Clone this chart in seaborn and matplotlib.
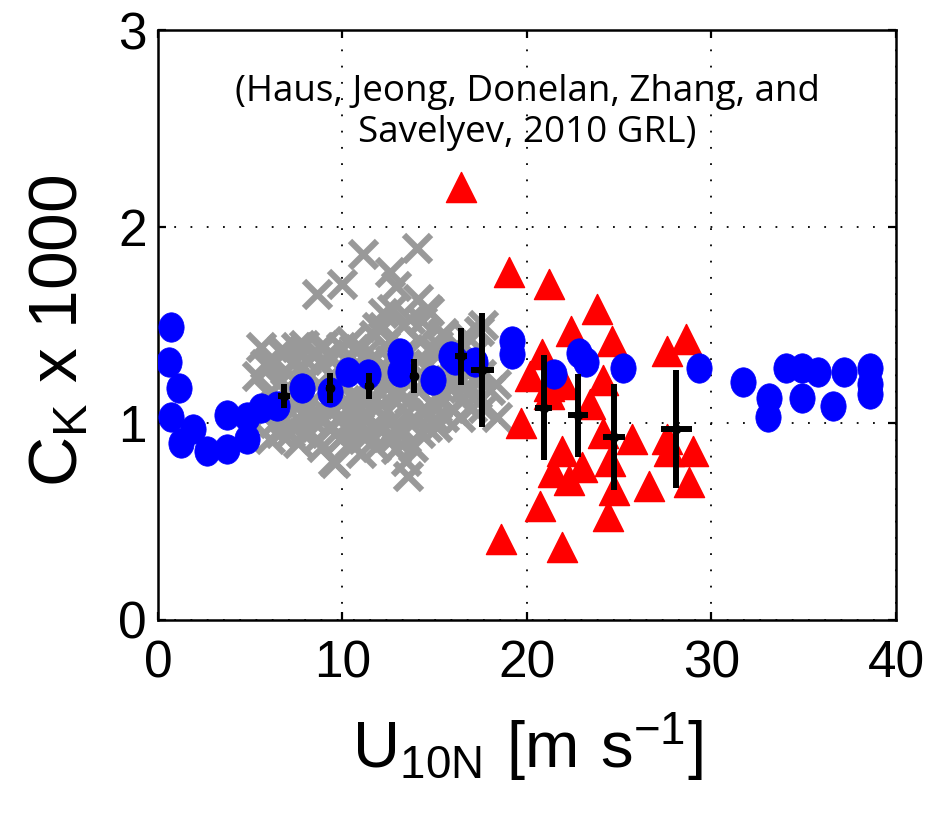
import seaborn as sns
import matplotlib.pyplot as plt
import numpy as np
import pandas as pd
from matplotlib.path import Path

# blue circles (bulk estimates)
blue_x = [0.69, 0.61, 1.15, 0.69, 1.23, 1.91, 2.67, 3.75, 3.75, 4.8, 4.8, 5.6, 6.43,
          7.78, 9.32, 10.3, 11.4, 13.1, 13.1, 14.9, 15.9, 16.1, 17.2, 19.2, 19.2,
          21.45, 22.8, 23.2, 25.2, 29.3, 31.7, 33.1, 33.06, 34.05, 34.9, 34.9,
          35.8, 36.6, 37.2, 38.6, 38.6, 38.6]
blue_y = [1.49, 1.31, 1.18, 1.03, 0.90, 0.97, 0.86, 1.04, 0.87, 0.92, 1.03, 1.08, 1.09,
          1.18, 1.16, 1.26, 1.25, 1.36, 1.26, 1.22, 1.34, 1.32, 1.31, 1.42, 1.35,
          1.25, 1.36, 1.31, 1.28, 1.28, 1.21, 1.13, 1.03, 1.28, 1.28, 1.13,
          1.26, 1.09, 1.26, 1.28, 1.15, 1.20]

# red triangles
red_x = [16.45, 19.0, 21.2, 23.8, 22.4, 24.6, 27.6, 28.6, 20.8, 20.15, 21.2, 22.0,
         24.1, 23.4, 19.7, 21.2, 24.1, 25.7, 27.6, 27.7, 29.0, 21.9, 23.0, 21.4,
         22.3, 24.5, 24.7, 26.6, 28.8, 20.7, 24.4, 18.6, 21.9]
red_y = [2.20, 1.77, 1.71, 1.58, 1.47, 1.42, 1.37, 1.43, 1.35, 1.24, 1.19, 1.20,
         1.22, 1.10, 1.00, 1.15, 0.95, 0.92, 0.92, 0.86, 0.86, 0.86, 0.78, 0.75,
         0.71, 0.81, 0.66, 0.68, 0.70, 0.58, 0.53, 0.41, 0.37]

# gray crosses (lab data)
gray_x = [8.6, 9.95, 11.1, 14.05, 12.6, 12.9, 12.7, 14.1, 14.7, 12.2, 13.3, 14.3, 12.2,
          14.6, 13.65, 15.45, 17.6, 17.4, 15.45, 15.1, 11.7, 11.85,
          5.6, 6.8, 7.5, 7.9, 8.8, 8.95, 9.9, 10.9, 5.35, 6.2, 6.9, 10.4, 11.3,
          6.0, 6.5, 7.0, 7.4, 7.8, 8.2, 8.4, 8.9, 9.0, 9.6, 9.9, 10.2, 10.3, 10.7,
          11.0, 11.2, 11.6, 11.8, 12.1, 12.3, 12.5, 12.7, 13.0, 13.2, 13.5, 13.7,
          14.0, 14.2, 14.4, 14.7, 15.0, 15.3, 15.6, 15.9, 16.2, 16.5, 16.8, 17.1,
          17.3, 6.3, 7.3, 8.1, 9.3, 10.0, 11.5, 12.8, 14.6, 16.0, 15.1,
          6.07, 7.15, 7.87, 8.6, 9.86, 9.5, 9.59, 10.76, 11.12, 12.39, 12.0, 13.3,
          13.56, 13.47, 13.83, 15.1, 16.36, 18.35, 17.6, 16.9, 18.0, 18.3,
          5.8, 6.4, 6.7, 7.1, 7.6, 8.0, 8.3, 8.7, 9.2, 9.4, 9.8, 10.1, 10.5, 10.6,
          10.9, 11.4, 11.9, 12.4, 12.6, 13.1, 13.4, 13.9, 14.1, 14.5, 14.9, 15.2,
          15.5, 15.8, 16.4, 16.6, 17.0, 17.5, 6.6, 7.6, 8.9, 10.4, 11.8, 12.9,
          14.2, 5.9, 11.0, 16.7,
          6.9, 8.5, 9.7, 10.8, 12.2, 13.6, 15.0, 16.1, 7.3, 8.6, 12.0, 14.8]
gray_y = [1.66, 1.71, 1.86, 1.89, 1.77, 1.70, 1.58, 1.63, 1.57, 1.49, 1.50, 1.52, 1.56,
          1.58, 1.53, 1.46, 1.50, 1.47, 1.45, 1.36, 1.45, 1.49,
          1.39, 1.35, 1.39, 1.40, 1.39, 1.40, 1.39, 1.38, 1.24, 1.30, 1.27, 1.42, 1.36,
          1.15, 1.20, 1.08, 1.22, 1.05, 1.25, 1.12, 1.30, 1.02, 1.22, 1.10, 1.32, 1.00, 1.15,
          1.28, 1.05, 1.20, 1.33, 1.10, 1.40, 1.00, 1.25, 1.15, 1.35, 1.05, 1.28,
          1.18, 1.42, 1.08, 1.30, 1.20, 1.12, 1.30, 1.18, 1.40, 1.12, 1.25, 1.35,
          1.15, 1.00, 0.98, 0.95, 0.97, 0.93, 0.95, 0.93, 0.98, 1.07, 1.08,
          0.92, 0.95, 0.95, 0.92, 0.92, 0.81, 0.80, 0.97, 0.93, 0.93, 0.98, 0.95,
          0.73, 0.81, 0.88, 0.98, 1.03, 1.03, 1.08, 1.17, 1.17, 1.20,
          1.30, 1.10, 1.38, 1.18, 1.12, 1.32, 1.02, 1.20, 1.35, 1.08, 1.28, 1.18, 1.08, 1.38,
          0.98, 1.12, 1.25, 1.18, 1.32, 0.98, 1.22, 1.02, 1.32, 1.20, 1.10, 1.40,
          1.03, 1.22, 1.30, 1.18, 1.08, 1.25, 0.95, 0.90, 0.88, 0.90, 0.88, 0.87,
          0.95, 1.05, 0.85, 1.45,
          1.02, 1.06, 1.02, 1.06, 1.04, 1.12, 1.02, 1.24, 1.30, 1.36, 1.28, 1.38]

# bin averages with error bars
bin_x = [6.83, 9.32, 11.43, 13.87, 16.41, 17.57, 20.9, 22.77, 24.72, 28.08]
bin_y = [1.14, 1.18, 1.19, 1.24, 1.34, 1.27, 1.08, 1.04, 0.93, 0.97]
bin_yerr = [0.06, 0.075, 0.065, 0.085, 0.145, 0.29, 0.265, 0.21, 0.27, 0.30]
bin_xerr = [0.32, 0.2, 0.2, 0.2, 0.32, 0.63, 0.48, 0.52, 0.6, 0.84]

sns.set_style('ticks')
plt.rcParams['font.family'] = ['Liberation Sans', 'DejaVu Sans']
plt.rcParams['mathtext.fontset'] = 'custom'
plt.rcParams['mathtext.rm'] = 'Liberation Sans'
for k in ['text.color', 'axes.labelcolor', 'xtick.color', 'ytick.color', 'axes.edgecolor']:
    plt.rcParams[k] = 'black'

fig = plt.figure(figsize=(9.38, 8.18), dpi=100)
ax = fig.add_axes([0.1684, 0.2421, 0.7868, 0.7212])

# slightly tall ellipse, like the stretched original
t = np.linspace(0, 2 * np.pi, 40)
ell = Path(np.column_stack([0.86 * np.cos(t), np.sin(t)]), closed=True)

gray = pd.DataFrame({'u': gray_x, 'ck': gray_y})
red = pd.DataFrame({'u': red_x, 'ck': red_y})
blue = pd.DataFrame({'u': blue_x, 'ck': blue_y})

sns.scatterplot(data=gray, x='u', y='ck', marker='x', s=380, color='#999999',
                linewidth=4.5, ax=ax, zorder=3)
sns.scatterplot(data=red, x='u', y='ck', marker='^', s=470, color='#ff0000',
                edgecolor='#ff0000', linewidth=1, ax=ax, zorder=4)
sns.scatterplot(data=blue, x='u', y='ck', marker=ell, s=450, color='#0000ff',
                edgecolor='#0000ff', linewidth=0.5, ax=ax, zorder=5)
ax.errorbar(bin_x, bin_y, yerr=bin_yerr, xerr=bin_xerr, fmt='o', color='k',
            markersize=6, elinewidth=4.3, capsize=0, zorder=6)

ax.set_xlim(0, 40)
ax.set_ylim(0, 3)
ax.set_xticks([0, 10, 20, 30, 40])
ax.set_yticks([0, 1, 2, 3])
ax.grid(True, color='k', linestyle=(0, (1, 8)), linewidth=1.3)
ax.set_axisbelow(True)
for sp in ax.spines.values():
    sp.set_visible(True)
    sp.set_linewidth(1.8)
ax.tick_params(direction='in', length=6, width=1.6, top=True, right=True,
               labelsize=37)
ax.tick_params(axis='x', pad=14)
ax.tick_params(axis='y', pad=8)

ax.set_xlabel(r'$\mathregular{U_{10N}\ [m\ s^{-1}]}$', fontsize=47)
ax.xaxis.set_label_coords(0.501, -0.153)
ax.xaxis.label.set_va('top')
ax.set_ylabel(r'$\mathregular{C_K}$ x 1000', fontsize=50)
ax.yaxis.set_label_coords(-0.09, 0.49)

ax.text(20, 2.64, '(Haus, Jeong, Donelan, Zhang, and', ha='center', va='baseline',
        fontsize=26.5, family=['Open Sans', 'DejaVu Sans'])
ax.text(20, 2.43, 'Savelyev, 2010 GRL)', ha='center', va='baseline',
        fontsize=26.5, family=['Open Sans', 'DejaVu Sans'])

fig.savefig('out.png', dpi=100)
